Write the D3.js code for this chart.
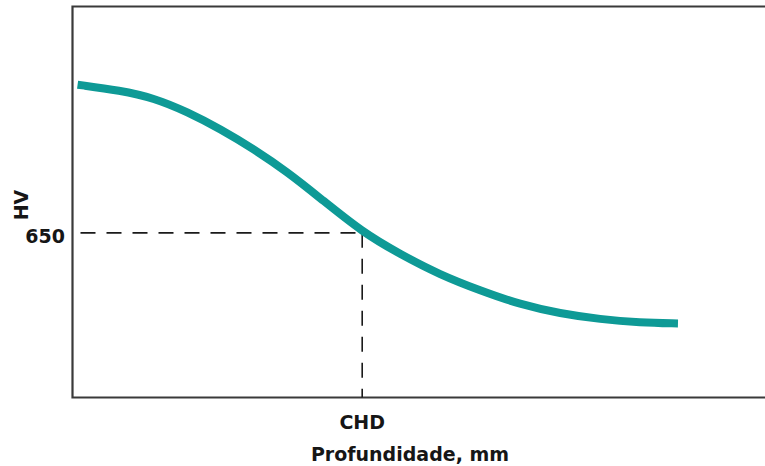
<!DOCTYPE html>
<html>
<head>
<meta charset="utf-8">
<script src="https://cdn.jsdelivr.net/npm/d3@7"></script>
<style>
  body { margin: 0; background: #fff; }
  text { font-family: "DejaVu Sans", Verdana, sans-serif; font-weight: bold; fill: #161616; }
</style>
</head>
<body>
<div id="chart"></div>
<script>
// hardness profile (depth in mm, hardness in HV)
const depth = [0.022, 0.208, 0.351, 0.498, 0.641, 0.784, 0.931, 1.074, 1.255, 1.420, 1.593, 1.766, 1.939, 2.113, 2.286, 2.459, 2.623];
const hardness = [830, 823, 814, 797, 776, 752, 724, 692, 651, 624, 599, 580, 563, 552, 545, 541, 540];
const chdDepth = 1.255;
const chdHardness = 650;
const yTickLabels = ["650"];
const xTickLabels = ["CHD"];

const width = 765,
    height = 466,
    margin = {top: 6.5, right: 0, bottom: 68.5, left: 72.5};

const svg = d3.select("#chart")
  .append("svg")
    .attr("width", width)
    .attr("height", height);

const x = d3.scaleLinear()
  .domain([0, 3])
  .range([margin.left, width - margin.right]);

const y = d3.scaleLinear()
  .domain([450, 925])
  .range([height - margin.bottom, margin.top]);

// frame: top, left and bottom sides only
svg.append("path")
  .attr("d", `M${x(3)},${y(925)} H${x(0)} V${y(450)} H${x(3)}`)
  .attr("fill", "none")
  .attr("stroke", "#3a3a3a")
  .attr("stroke-width", 2.2);

// dashed guide lines to the CHD point
svg.append("line")
  .attr("x1", x(0) + 8).attr("x2", x(chdDepth))
  .attr("y1", y(chdHardness)).attr("y2", y(chdHardness))
  .attr("stroke", "#1a1a1a")
  .attr("stroke-width", 1.6)
  .attr("stroke-dasharray", "15,11");

svg.append("line")
  .attr("x1", x(chdDepth)).attr("x2", x(chdDepth))
  .attr("y1", y(chdHardness)).attr("y2", y(450))
  .attr("stroke", "#1a1a1a")
  .attr("stroke-width", 1.6)
  .attr("stroke-dasharray", "15,11");

// the curve
const line = d3.line()
  .x(d => x(d[0]))
  .y(d => y(d[1]))
  .curve(d3.curveBasis);

svg.append("path")
  .datum(d3.zip(depth, hardness))
  .attr("d", line)
  .attr("fill", "none")
  .attr("stroke", "#0e9a96")
  .attr("stroke-width", 8);

// labels
svg.append("text")
  .attr("x", 65)
  .attr("y", y(chdHardness) + 10)
  .attr("text-anchor", "end")
  .style("font-size", "19px")
  .text(yTickLabels[0]);

svg.append("text")
  .attr("transform", `translate(28,205) rotate(-90)`)
  .attr("text-anchor", "middle")
  .style("font-size", "19px")
  .text("HV");

svg.append("text")
  .attr("x", x(chdDepth))
  .attr("y", 429)
  .attr("text-anchor", "middle")
  .style("font-size", "19px")
  .text(xTickLabels[0]);

svg.append("text")
  .attr("x", 410)
  .attr("y", 461)
  .attr("text-anchor", "middle")
  .style("font-size", "19px")
  .text("Profundidade, mm");
</script>
</body>
</html>
